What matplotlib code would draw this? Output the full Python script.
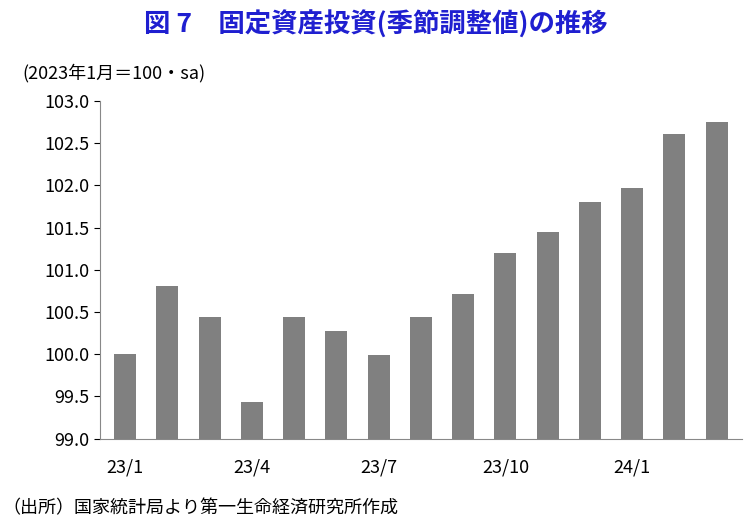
import matplotlib.pyplot as plt

plt.rcParams['font.family'] = ['Noto Sans CJK JP', 'DejaVu Sans']

months = ['23/1', '', '', '23/4', '', '', '23/7', '', '', '23/10', '', '', '24/1', '', '']
values = [100.0, 100.81, 100.44, 99.43, 100.44, 100.28, 99.99, 100.44, 100.72,
          101.20, 101.45, 101.81, 101.97, 102.61, 102.75]

fig = plt.figure(figsize=(7.51, 5.21), dpi=100)
ax = fig.add_axes([0.133, 0.158, 0.855, 0.648])
x = list(range(len(values)))
ax.bar(x, values, width=0.52, color='#808080', bottom=0)
ax.set_ylim(99.0, 103.0)
ax.set_xlim(-0.6, len(values) - 0.4)
ax.set_yticks([99.0 + 0.5 * i for i in range(9)])
ax.set_yticklabels([f'{99.0 + 0.5 * i:.1f}' for i in range(9)], fontsize=13)
ax.set_xticks(x)
ax.set_xticklabels(months, fontsize=13)
ax.tick_params(axis='x', length=0, pad=14)
ax.tick_params(axis='y', length=4, direction='out')
for s in ['top', 'right']:
    ax.spines[s].set_visible(False)
ax.spines['left'].set_color('#888888')
ax.spines['bottom'].set_color('#888888')

fig.text(0.5, 0.952, '図 7　固定資産投資(季節調整値)の推移', ha='center', va='center',
         fontsize=19, fontweight='bold', color='#1f1fd0')
fig.text(0.03, 0.86, '(2023年1月＝100・sa)', fontsize=13, va='center')
fig.text(0.003, 0.025, '（出所）国家統計局より第一生命経済研究所作成', fontsize=13, va='center')

fig.savefig('out.png', dpi=100)
